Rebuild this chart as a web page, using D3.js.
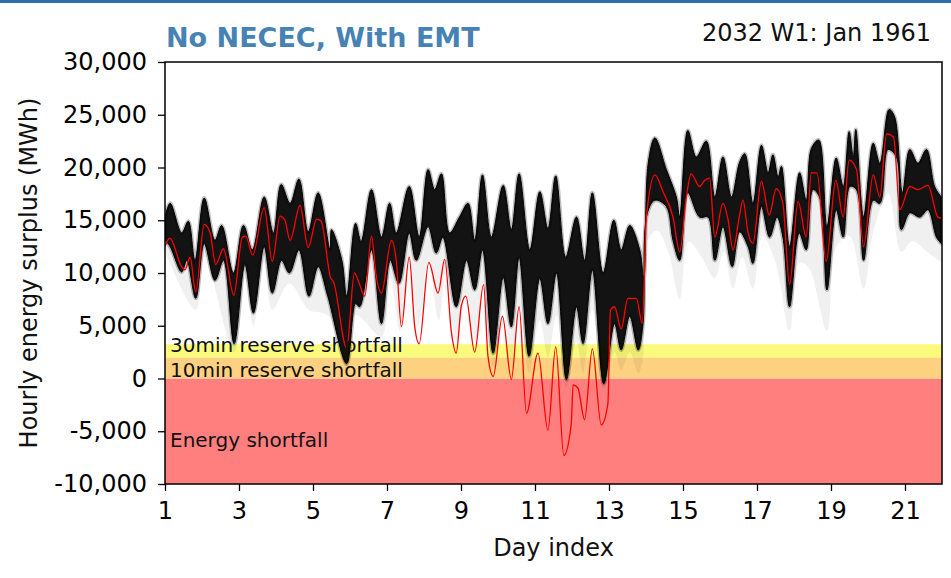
<!DOCTYPE html>
<html>
<head>
<meta charset="utf-8">
<script src="https://cdn.jsdelivr.net/npm/d3@7"></script>
<style>
  body { margin: 0; background: #fff; }
  text { font-family: "DejaVu Sans", sans-serif; }
</style>
</head>
<body>
<script>

// ---- data (day index, MWh) ----

// red line (highlighted weather year)
var redDays = [1.00, 1.13, 1.45, 1.54, 1.68, 1.83, 2.06, 2.22, 2.37, 2.58, 2.86, 3.09, 3.18, 3.37, 3.68, 3.90,
  4.11, 4.24, 4.38, 4.65, 4.87, 5.10, 5.22, 5.48, 5.55, 5.91, 6.12, 6.25, 6.40, 6.58, 6.71, 6.85,
  7.12, 7.25, 7.39, 7.60, 7.75, 7.87, 8.13, 8.38, 8.56, 8.74, 8.87, 9.01, 9.13, 9.37, 9.61, 9.73,
  9.87, 10.12, 10.36, 10.57, 10.77, 11.08, 11.35, 11.56, 11.78, 11.98, 12.03, 12.16, 12.34, 12.55, 12.79, 12.97,
  13.04, 13.15, 13.33, 13.51, 13.74, 13.90, 14.01, 14.24, 14.46, 14.73, 14.91, 15.09, 15.22, 15.45, 15.59, 15.72,
  15.86, 16.08, 16.22, 16.35, 16.53, 16.62, 16.76, 16.89, 17.12, 17.33, 17.52, 17.70, 17.88, 18.11, 18.33, 18.47,
  18.62, 18.87, 19.13, 19.33, 19.49, 19.69, 19.88, 20.14, 20.32, 20.50, 20.69, 20.86, 21.13, 21.35, 21.62, 21.89,
  21.98];
var redVals = [12500, 13300, 10600, 10300, 11500, 8200, 14600, 13800, 10800, 12300, 7900, 13400, 13500, 11700, 16200, 11100,
  15400, 15000, 13100, 16400, 12400, 15100, 14900, 9500, 9200, 2900, 10000, 9000, 7800, 13500, 9700, 8100,
  13100, 11200, 4900, 11500, 4900, 3300, 11000, 8100, 11300, 4400, 2400, 6900, 7800, 2500, 8900, 2100,
  200, 5900, -100, 6800, -3300, 2400, -4900, 3000, -7300, -4300, -600, -900, -3900, 2800, -4400, -2400,
  6500, 6800, 4700, 7600, 7600, 5200, 15300, 19300, 17700, 15300, 12000, 17200, 19400, 18200, 18800, 19000,
  13400, 16600, 15000, 12200, 15500, 16900, 13800, 12800, 18700, 15500, 18000, 16600, 8900, 16800, 13400, 19500,
  19500, 11100, 18800, 15300, 20700, 19800, 12500, 19300, 17200, 23200, 22900, 16000, 18200, 17900, 18300, 15300,
  15200];

// upper edge of the black ensemble
var topDays = [1.00, 1.14, 1.45, 1.63, 1.81, 2.06, 2.35, 2.53, 2.85, 3.12, 3.36, 3.68, 3.93, 4.14, 4.38, 4.62,
  4.87, 5.14, 5.46, 5.50, 5.78, 5.91, 6.15, 6.30, 6.58, 6.85, 7.07, 7.25, 7.60, 7.87, 8.11, 8.29,
  8.47, 8.69, 8.96, 9.19, 9.37, 9.58, 9.82, 10.14, 10.36, 10.57, 10.86, 11.13, 11.35, 11.56, 11.83, 12.12,
  12.34, 12.55, 12.84, 13.13, 13.33, 13.56, 13.83, 13.94, 14.06, 14.24, 14.55, 14.82, 14.91, 15.13, 15.36, 15.63,
  15.86, 16.08, 16.31, 16.53, 16.67, 16.89, 17.12, 17.30, 17.43, 17.57, 17.66, 17.88, 18.15, 18.33, 18.47, 18.67,
  18.89, 19.14, 19.33, 19.49, 19.60, 19.67, 19.88, 20.14, 20.32, 20.57, 20.72, 20.93, 21.13, 21.35, 21.58, 21.80,
  21.98];
var topVals = [15300, 16600, 13800, 14900, 11200, 17100, 13100, 14500, 10000, 14500, 12200, 17200, 13800, 18400, 16600, 18900,
  13900, 17600, 12200, 14100, 11200, 7800, 14700, 13000, 17900, 13400, 16600, 13800, 18200, 13400, 19800, 17900,
  19400, 13800, 15300, 16600, 13100, 19300, 13400, 18300, 14100, 19400, 12200, 17700, 14200, 19200, 11500, 15300,
  11200, 17600, 10000, 15000, 12200, 14500, 12200, 9500, 20400, 22800, 19800, 17200, 15300, 23500, 21000, 22500,
  17200, 21000, 17200, 20500, 21300, 16600, 22100, 19500, 21200, 19100, 20100, 12500, 19500, 16900, 21800, 22600,
  14400, 20900, 18200, 23400, 21000, 23600, 15300, 22300, 20400, 25500, 24800, 17600, 21700, 20400, 21700, 18200,
  17200];

// lower edge of the dense black ensemble
var botDays = [1.00, 1.14, 1.45, 1.59, 1.83, 2.06, 2.35, 2.58, 2.87, 3.16, 3.39, 3.68, 3.90, 4.15, 4.36, 4.62,
  4.89, 5.14, 5.40, 5.91, 6.15, 6.26, 6.58, 6.85, 7.09, 7.32, 7.60, 7.79, 8.11, 8.33, 8.51, 8.87,
  9.15, 9.37, 9.58, 9.87, 10.14, 10.36, 10.57, 10.84, 11.13, 11.35, 11.58, 11.85, 12.12, 12.30, 12.55, 12.86,
  13.15, 13.33, 13.56, 13.79, 13.92, 14.03, 14.24, 14.55, 14.73, 14.91, 15.13, 15.45, 15.68, 15.86, 16.08, 16.33,
  16.53, 16.76, 16.89, 17.12, 17.34, 17.54, 17.70, 17.88, 18.14, 18.33, 18.51, 18.69, 18.89, 19.14, 19.33, 19.51,
  19.69, 19.88, 20.14, 20.32, 20.54, 20.77, 20.90, 21.13, 21.40, 21.62, 21.85, 21.98];
var botVals = [13100, 12500, 10100, 11200, 7600, 12800, 9300, 11200, 3300, 10800, 6200, 12500, 8100, 11200, 10000, 12200,
  7800, 10600, 7800, 1400, 7100, 6800, 12200, 5200, 11200, 9000, 13800, 11200, 14400, 11900, 13400, 6800,
  11200, 8400, 12200, 2400, 9600, 4900, 11500, 2100, 9500, 5200, 10000, -100, 6800, 3300, 10300, -500,
  5200, 2700, 5900, 2700, 5200, 15600, 16900, 16300, 13100, 11200, 17600, 15300, 15300, 11200, 14400, 10600,
  13900, 12500, 10900, 16300, 13400, 15300, 13400, 6800, 13800, 12200, 17900, 17200, 8400, 16000, 13400, 18200,
  17900, 11200, 16900, 16600, 21700, 21000, 14100, 15700, 15300, 16000, 13400, 12800];

// lowest faint grey members
var faintDays = [1.00, 1.83, 2.06, 2.87, 3.16, 3.39, 3.68, 3.90, 4.36, 4.89, 5.40, 5.91, 6.15, 6.85, 7.09, 7.35,
  7.60, 7.85, 8.11, 8.40, 8.60, 8.87, 9.15, 9.40, 9.60, 9.87, 10.14, 10.36, 10.57, 10.84, 11.13, 11.35,
  11.58, 11.85, 12.12, 12.30, 12.55, 12.86, 13.15, 13.33, 13.56, 13.79, 13.92, 14.03, 14.30, 14.60, 14.91, 15.15,
  15.50, 15.86, 16.10, 16.35, 16.60, 16.89, 17.15, 17.50, 17.88, 18.15, 18.40, 18.89, 19.15, 19.50, 19.88, 20.15,
  20.55, 20.90, 21.20, 21.60, 21.98];
var faintVals = [12000, 6500, 11500, 2500, 9500, 5000, 11000, 6500, 9000, 6500, 6000, 800, 6000, 4000, 9500, 4500,
  11000, 5000, 11000, 5500, 10500, 3500, 8000, 3500, 8500, 1000, 6500, 1500, 7000, 500, 5500, 2000,
  6000, -800, 3500, 500, 6500, -1000, 2500, 800, 2500, 500, 2000, 13000, 14000, 12000, 7500, 13000,
  11500, 9500, 12000, 8500, 11500, 8500, 13500, 11000, 4500, 11000, 10500, 4500, 12500, 13500, 8500, 14000,
  17500, 12000, 13000, 12000, 11000];

// shortfall bands
var bandNames = ["Energy shortfall", "10min reserve shortfall", "30min reserve shortfall"];
var bandLow = [-10000, 0, 2000];
var bandHigh = [0, 2000, 3250];
var bandColors = ["#ff7f7f", "#fdd180", "#fafa7c"];

var xTicks = [1, 3, 5, 7, 9, 11, 13, 15, 17, 19, 21];
var yTicks = [-10000, -5000, 0, 5000, 10000, 15000, 20000, 25000, 30000];

// ---- chart ----

var svgWidth = 951;
var svgHeight = 578;

var margin = { top: 62, right: 9, bottom: 94, left: 165 };

var width = svgWidth - margin.left - margin.right;
var height = svgHeight - margin.top - margin.bottom;

var svg = d3.select("body")
  .append("svg")
  .attr("width", svgWidth)
  .attr("height", svgHeight);

// thin blue rule along the top edge
svg.append("rect")
  .attr("x", 0).attr("y", 0)
  .attr("width", svgWidth).attr("height", 3)
  .attr("fill", "#2f6eaa");

var chartGroup = svg.append("g")
  .attr("transform", `translate(${margin.left}, ${margin.top})`);

var xScale = d3.scaleLinear().domain([1, 22]).range([0, width]);
var yScale = d3.scaleLinear().domain([-10000, 30000]).range([height, 0]);

chartGroup.append("clipPath")
  .attr("id", "plotClip")
  .append("rect")
  .attr("width", width)
  .attr("height", height);

var plot = chartGroup.append("g").attr("clip-path", "url(#plotClip)");

// bands
plot.selectAll("rect.band")
  .data(bandNames)
  .enter()
  .append("rect")
  .attr("class", "band")
  .attr("x", 0)
  .attr("width", width)
  .attr("y", (d, i) => yScale(bandHigh[i]))
  .attr("height", (d, i) => yScale(bandLow[i]) - yScale(bandHigh[i]))
  .attr("fill", (d, i) => bandColors[i]);

function pts(days, vals) {
  return days.map((d, i) => [xScale(d), yScale(vals[i])]);
}

// smooth outline: upper edge left->right, lower edge right->left
var smooth = d3.line().curve(d3.curveCatmullRom.alpha(0.5));
function envelope(upD, upV, loD, loV) {
  var up = smooth(pts(upD, upV));
  var lo = smooth(pts(loD, loV).reverse());
  return up + "L" + lo.slice(1) + "Z";
}

// faint grey members (behind)
plot.append("path")
  .attr("d", envelope(topDays, topVals, faintDays, faintVals))
  .attr("fill", "#000")
  .attr("fill-opacity", 0.06)
  .attr("stroke", "none");

// mid grey fringe just under the dense part
plot.append("path")
  .attr("d", envelope(topDays, topVals, botDays, botVals))
  .attr("fill", "none")
  .attr("stroke", "#000")
  .attr("stroke-opacity", 0.25)
  .attr("stroke-width", 4)
  .attr("stroke-linejoin", "round");

// dense black ensemble
plot.append("path")
  .attr("d", envelope(topDays, topVals, botDays, botVals))
  .attr("fill", "#000")
  .attr("fill-opacity", 0.92)
  .attr("stroke", "#000")
  .attr("stroke-width", 1)
  .attr("stroke-linejoin", "round");

// red line
plot.append("path")
  .attr("d", d3.line().curve(d3.curveMonotoneX)(pts(redDays, redVals)))
  .attr("fill", "none")
  .attr("stroke", "#f00")
  .attr("stroke-width", 1.3)
  .attr("stroke-linejoin", "round");

// band labels
var labelY = [yScale(-6500), yScale(0) - 1.5, yScale(2000) - 5];
chartGroup.selectAll("text.bandLabel")
  .data(bandNames)
  .enter()
  .append("text")
  .attr("class", "bandLabel")
  .attr("x", 5)
  .attr("y", (d, i) => labelY[i])
  .style("font-size", "20px")
  .attr("fill", "#111")
  .text(d => d);

// axes
var bottomAxis = d3.axisBottom(xScale).tickValues(xTicks).tickSize(7).tickPadding(11);
var leftAxis = d3.axisLeft(yScale).tickValues(yTicks).tickSize(7).tickPadding(11)
  .tickFormat(d => d.toLocaleString("en-US"));

var xAxisG = chartGroup.append("g")
  .attr("transform", `translate(0, ${height})`)
  .call(bottomAxis);

var yAxisG = chartGroup.append("g")
  .call(leftAxis);

[xAxisG, yAxisG].forEach(function (g) {
  g.select(".domain").remove();
  g.selectAll("line").attr("stroke", "#000").attr("stroke-width", 1.3);
  g.selectAll("text")
    .attr("fill", "#000")
    .style("font-size", "24px")
    .style("font-family", "DejaVu Sans, sans-serif");
});

// frame
chartGroup.append("rect")
  .attr("width", width)
  .attr("height", height)
  .attr("fill", "none")
  .attr("stroke", "#000")
  .attr("stroke-width", 1.5);

// axis labels
chartGroup.append("text")
  .attr("x", width / 2)
  .attr("y", height + 72)
  .attr("text-anchor", "middle")
  .style("font-size", "24px")
  .attr("fill", "#111")
  .text("Day index");

svg.append("text")
  .attr("transform", `translate(37, ${margin.top + height / 2}) rotate(-90)`)
  .attr("text-anchor", "middle")
  .style("font-size", "24px")
  .attr("fill", "#111")
  .text("Hourly energy surplus (MWh)");

// titles
svg.append("text")
  .attr("x", 166)
  .attr("y", 47)
  .style("font-size", "27px")
  .style("font-weight", "bold")
  .attr("fill", "#4682b4")
  .text("No NECEC, With EMT");

svg.append("text")
  .attr("x", 931)
  .attr("y", 41)
  .attr("text-anchor", "end")
  .style("font-size", "24px")
  .attr("fill", "#111")
  .text("2032 W1: Jan 1961");

</script>
</body>
</html>
